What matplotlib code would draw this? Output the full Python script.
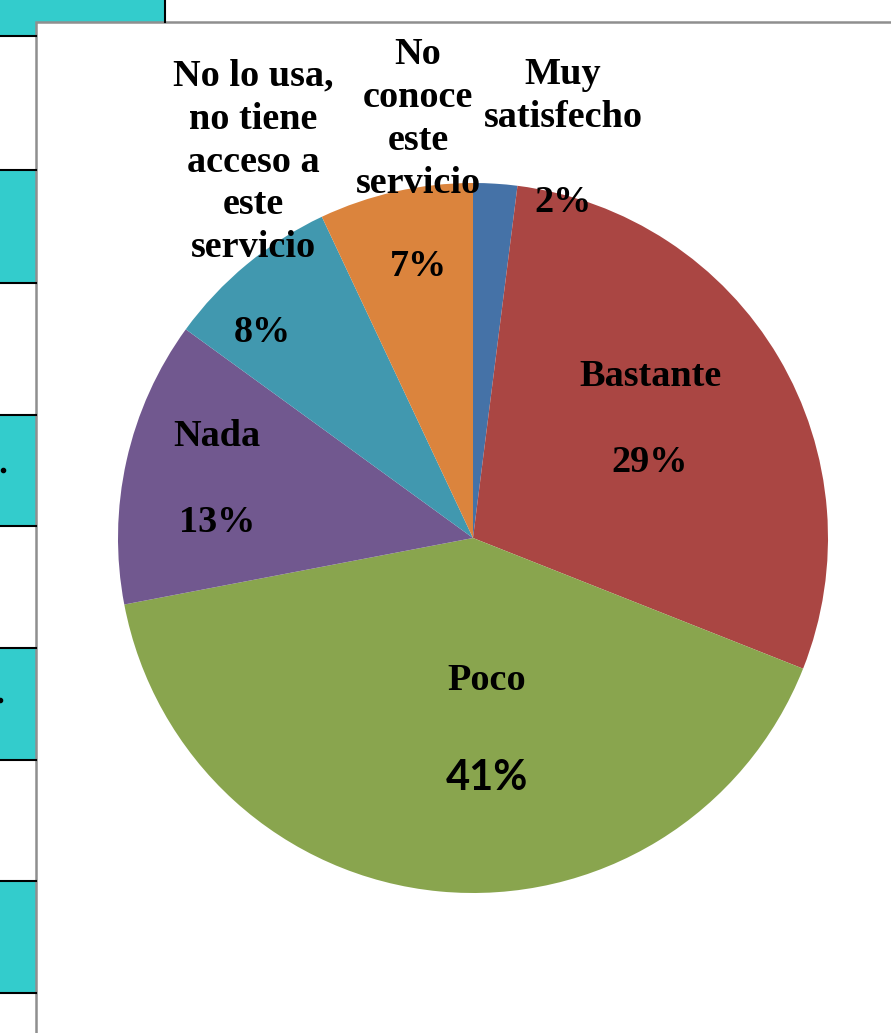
import matplotlib.pyplot as plt
from matplotlib.patches import Rectangle

# survey answers, clockwise from the top
categories = ["Muy\nsatisfecho", "Bastante", "Poco", "Nada",
              "No lo usa,\nno tiene\nacceso a\neste\nservicio",
              "No\nconoce\neste\nservicio"]
values = [2, 29, 41, 13, 8, 7]
colors = ["#4572A7", "#AA4643", "#89A54E", "#71588F", "#4198AF", "#DB843D"]

# where each name / percent goes (pixels from top-left)
name_pos = [(563, 96), (650, 377), (487, 680), (217, 437), (253, 162), (418, 119)]
pct_pos = [(563, 202), (650, 462), (487, 778), (217, 522), (262, 332), (418, 266)]

W, H = 891, 1033
fig = plt.figure(figsize=(W / 100, H / 100), dpi=100)
ax = fig.add_axes([0, 0, 1, 1])


def fy(y):
    return H - y


# table cells behind the chart
teal = "#33CCCC"
ax.add_patch(Rectangle((0, fy(36)), 165, 36, facecolor=teal, edgecolor="none"))
ax.plot([165, 165], [fy(0), fy(22)], color="black", lw=1.5)
ax.plot([0, 36], [fy(36), fy(36)], color="black", lw=1.5)
for top, bot in [(170, 283), (415, 526), (648, 760), (881, 993)]:
    ax.add_patch(Rectangle((0, fy(bot)), 36, bot - top, facecolor=teal, edgecolor="none"))
    ax.plot([0, 36], [fy(top), fy(top)], color="black", lw=1.5)
    ax.plot([0, 36], [fy(bot), fy(bot)], color="black", lw=1.5)
ax.plot([3], [fy(470)], "o", color="black", ms=3)
ax.plot([0], [fy(700)], "o", color="black", ms=3)

# chart area frame
ax.add_patch(Rectangle((36, -20), W, fy(22) + 20, facecolor="white",
                       edgecolor="#8f8f8f", lw=1.8))

ax.pie(values, colors=colors, startangle=90, counterclock=False,
       center=(473, fy(538)), radius=355,
       wedgeprops=dict(linewidth=0, edgecolor="none"))

serif = dict(family="Liberation Serif", weight="bold", fontsize=27.5,
             ha="center", va="center", linespacing=1.29)
for name, (x, y) in zip(categories, name_pos):
    ax.text(x, fy(y), name, **serif)
for i, (v, (x, y)) in enumerate(zip(values, pct_pos)):
    if categories[i] == "Poco":
        ax.text(x, fy(y), f"{v}%", family="Lato", weight="bold", fontsize=30,
                ha="center", va="center")
    else:
        ax.text(x, fy(y), f"{v}%", **serif)

ax.set_xlim(0, W)
ax.set_ylim(0, H)
ax.set_aspect("equal")
ax.axis("off")
fig.savefig("out.png", dpi=100)
